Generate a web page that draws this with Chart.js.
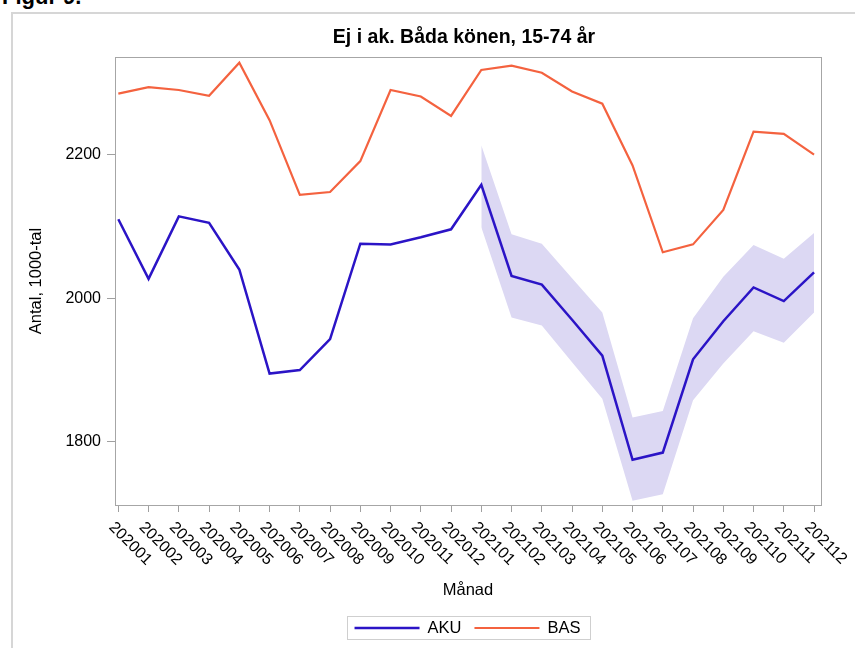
<!DOCTYPE html>
<html>
<head>
<meta charset="utf-8">
<script src="https://cdn.jsdelivr.net/npm/chart.js@4.4.1/dist/chart.umd.min.js"></script>
<style>
  html, body { margin: 0; padding: 0; overflow: hidden; background: #fff; }
  body { width: 855px; height: 648px; position: relative; font-family: "Liberation Sans", Arial, sans-serif; }
  #figur { position: absolute; left: 2px; top: -14px; font-size: 22px; font-weight: bold; line-height: 22px; color: #000; }
  #ram { position: absolute; left: 11px; top: 12px; right: -10px; bottom: -10px; border-left: 2px solid #d6d6d6; border-top: 2px solid #d6d6d6; }
  #wrap { position: absolute; left: 0; top: 0; width: 928px; height: 648px; }
</style>
</head>
<body>
<div id="figur">Figur 9.</div>
<div id="ram"></div>
<div id="wrap"><canvas id="chart" width="928" height="648"></canvas></div>
<script>
// Månader och värden (1000-tal)
const months = ['202001', '202002', '202003', '202004', '202005', '202006', '202007', '202008',
  '202009', '202010', '202011', '202012', '202101', '202102', '202103', '202104',
  '202105', '202106', '202107', '202108', '202109', '202110', '202111', '202112'];
const akuValues = [2110, 2027, 2114, 2105, 2040, 1895, 1900, 1943, 2076, 2075, 2085, 2096,
  2158, 2031, 2019, 1970, 1920, 1775, 1785, 1915, 1968, 2015, 1996, 2036];
const basValues = [2285, 2294, 2290, 2282, 2328, 2248, 2144, 2148, 2191, 2290, 2281, 2254,
  2318, 2324, 2314, 2288, 2271, 2185, 2064, 2075, 2123, 2232, 2229, 2200];
// Konfidensintervall för AKU
const akuUpper = [null, null, null, null, null, null, null, null, null, null, null, null,
  2213, 2089, 2076, 2028, 1980, 1834, 1843, 1972, 2030, 2074, 2055, 2091];
const akuLower = [null, null, null, null, null, null, null, null, null, null, null, null,
  2099, 1973, 1962, 1911, 1860, 1718, 1727, 1858, 1909, 1954, 1938, 1980];
const yTicks = [1800, 2000, 2200];

const toPoints = arr => arr.map((v, i) => ({ x: i, y: v }));
const fontFamily = '"Liberation Sans", Arial, sans-serif';

Chart.defaults.font.family = fontFamily;
Chart.defaults.color = '#000';

// Roterade månadsetiketter, ram runt ritytan och egen legend
const pynt = {
  id: 'pynt',
  afterDraw(chart) {
    const { ctx, chartArea: a, scales: { x } } = chart;
    ctx.save();
    ctx.strokeStyle = '#a6a6a6';
    ctx.lineWidth = 1;
    ctx.strokeRect(a.left + 0.5, a.top + 0.5, a.right - a.left, a.bottom - a.top);

    ctx.font = '16px ' + fontFamily;
    ctx.fillStyle = '#000';
    ctx.textAlign = 'left';
    ctx.textBaseline = 'alphabetic';
    months.forEach((m, i) => {
      const px = x.getPixelForValue(i);
      ctx.save();
      ctx.translate(px - 10, a.bottom + 23);
      ctx.rotate(Math.PI / 4);
      ctx.fillText(m, 0, 0);
      ctx.restore();
    });

    const items = chart.data.datasets.filter(d => d.legend);
    ctx.font = '16.5px ' + fontFamily;
    const widths = items.map(d => ctx.measureText(d.label).width);
    const total = 8 + widths.reduce((s, w) => s + 65 + 8 + w, 0) + 13 * (items.length - 1) + 9;
    let lx = (a.left + a.right) / 2 - total / 2;
    ctx.strokeStyle = '#cfcfcf';
    ctx.strokeRect(Math.round(lx) + 0.5, 616.5, Math.round(total), 23);
    lx += 8;
    const ly = 628;
    ctx.textBaseline = 'middle';
    items.forEach((d, i) => {
      ctx.strokeStyle = d.borderColor;
      ctx.lineWidth = d.borderWidth;
      ctx.beginPath();
      ctx.moveTo(lx, ly);
      ctx.lineTo(lx + 65, ly);
      ctx.stroke();
      ctx.fillStyle = '#000';
      ctx.fillText(d.label, lx + 73, ly);
      lx += 65 + 8 + widths[i] + 13;
    });
    ctx.restore();
  }
};

new Chart(document.getElementById('chart'), {
  type: 'line',
  data: {
    datasets: [
      { label: 'AKU', legend: true, data: toPoints(akuValues), borderColor: '#2b14c6', borderWidth: 2.5, pointRadius: 0, fill: false },
      { label: 'BAS', legend: true, data: toPoints(basValues), borderColor: '#f4623f', borderWidth: 2.2, pointRadius: 0, fill: false },
      { label: 'övre', data: toPoints(akuUpper), borderColor: 'transparent', borderWidth: 0, pointRadius: 0, fill: false },
      { label: 'undre', data: toPoints(akuLower), borderColor: 'transparent', borderWidth: 0, pointRadius: 0, fill: '-1', backgroundColor: '#dcd8f3' }
    ]
  },
  options: {
    responsive: false,
    animation: false,
    layout: { padding: { top: 0, left: 0, right: 0, bottom: 48 } },
    plugins: {
      legend: { display: false },
      tooltip: { enabled: false },
      title: {
        display: true,
        text: 'Ej i ak. Båda könen, 15-74 år',
        font: { size: 19.5, weight: 'bold' },
        color: '#000',
        padding: { top: 26.3, bottom: 7.3 }
      }
    },
    scales: {
      x: {
        type: 'linear',
        min: -0.11,
        max: 23.23,
        afterBuildTicks: s => { s.ticks = months.map((m, i) => ({ value: i })); },
        afterFit: s => { s.height = 95; },
        ticks: { display: false },
        grid: { drawOnChartArea: false, color: '#a0a0a0', tickLength: 7 },
        border: { display: false },
        title: { display: true, text: 'Månad', font: { size: 16.5 }, color: '#000', padding: 0 }
      },
      y: {
        min: 1712,
        max: 2336,
        afterBuildTicks: s => { s.ticks = yTicks.map(v => ({ value: v })); },
        afterFit: s => { s.width = 115; },
        ticks: { font: { size: 16 }, color: '#000', padding: 6, callback: v => String(v) },
        grid: { drawOnChartArea: false, color: '#a0a0a0', tickLength: 8 },
        border: { display: false },
        title: { display: true, text: 'Antal, 1000-tal', font: { size: 16.5 }, color: '#000', padding: { top: 27, bottom: 0 } }
      },
      y2: {
        position: 'right',
        afterFit: s => { s.width = 107; },
        ticks: { display: false },
        grid: { display: false },
        border: { display: false }
      }
    }
  },
  plugins: [pynt]
});
</script>
</body>
</html>
